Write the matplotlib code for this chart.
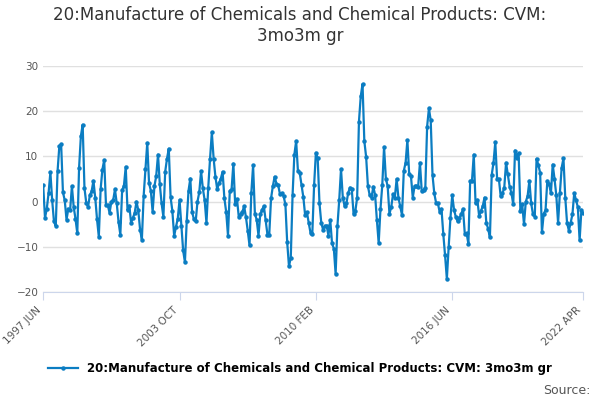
import matplotlib.pyplot as plt

values = [
    3.6, -3.6, -1.6, 1.9, 6.5, 0.3, -4.4, -5.4, 6.7, 12.3, 12.7, 2.1, 0.3, -4, -1.6, -1.9, 3.4, -1.2,
    -3.8, -7, 7.5, 14.5, 17, 3, -0.3, -1.2, 1.4, 2.3, 4.6, 0.9, -3.9, -7.8, 2.7, 7.1, 9.2, -0.8, -0.8,
    -2.5, 0, 0.3, 2.7, -0.4, -4.5, -7.3, 2.5, 3.5, 7.7, -1.9, -0.9, -4.7, -3.6, -2.5, 0, -1.9, -6.2,
    -8.4, 1.3, 7.3, 13, 4.1, 2.4, -2.3, 3.4, 5.7, 10.4, 3.8, -0.4, -3.4, 6.6, 9.5, 11.7, 1, -2.1,
    -7.6, -5.6, -3.8, 0.4, -5.3, -10.8, -13.4, -4.3, 2.4, 5.1, -2.3, -3.9, -4.4, 0, 2.1, 6.7, 2.9, 0.3,
    -4.7, 3.1, 9.5, 15.3, 9.5, 5.5, 2.7, 4.1, 5.1, 6.6, 0.7, -2.3, -7.5, 2.4, 2.7, 8.4, -0.6, 0.6, -3.3,
    -2.8, -2.3, -1, -3.4, -6.4, -9.7, 1.9, 8, -2.7, -4, -7.5, -2.8, -1.8, -1, -4.1, -7.3, -7.3, 0.7,
    3.4, 5.5, 4, 3.6, 1.6, 1.9, 1.2, -0.6, -9, -14.3, -12.4, 1.4, 10.4, 13.4, 6.7, 6.3, 3.6, 1, -3,
    -2.3, -4.7, -6.9, -7.1, 3.6, 10.8, 9.6, -0.4, -4.7, -6.2, -5.4, -5.3, -7.5, -4.1, -9.2, -10.4, -16,
    -5.4, 0.3, 7.2, 0.9, -1, -0.4, 1.9, 3.1, 2.7, -2.7, -2.1, 0.9, 17.7, 23.3, 26, 13.4, 9.9, 3.4, 1.4,
    0.9, 3.3, 1.5, -4.1, -9.2, -1.6, 3.6, 12.1, 5.1, 3.4, -2.7, -1.2, 1.6, 0.9, 5, 0.9, -1, -3, 6.8,
    8.6, 13.6, 6.1, 5.6, 0.9, 3.4, 3.4, 3.3, 8.6, 2.3, 2.5, 3.1, 16.6, 20.6, 18, 5.9, 1.8, -0.3, -0.4,
    -2.3, -1.6, -7.1, -11.9, -17.1, -10.1, -3.6, 1.4, -1.8, -3.4, -4.4, -3.6, -2.8, -1.6, -7.1, -7,
    -9.3, 4.6, 4.6, 10.4, -0.4, 0.4, -3.2, -2.1, -1, 0.9, -4.7, -6, -7.9, 5.9, 8.6, 13.2, 5.1, 5, 1.2,
    1.8, 3.1, 8.6, 6, 3.3, 1.9, -0.6, 11.3, 9.6, 10.7, -2.1, -0.6, -5, 0, 1.2, 4.6, -0.4, -2.8, -3.3,
    9.5, 8.1, 6.4, -6.8, -2.7, -1.9, 4.6, 3.9, 1.8, 8.2, 5.1, 1.4, -4.7, 1.9, 7.5, 9.6, 0.9, -4.7, -6.4,
    -4.7, -2.8, 1.9, 0.3, -1.2, -8.6, -1.8, -2.5,
]
n = len(values)
tick_labels = ['1997 JUN', '2003 OCT', '2010 FEB', '2016 JUN', '2022 APR']
tick_pos = [0, 76, 152, 228, n - 1]
label = '20:Manufacture of Chemicals and Chemical Products: CVM: 3mo3m gr'
color = '#0b7dc2'

fig = plt.figure(figsize=(6, 4), dpi=100)
ax = fig.add_axes([0.072, 0.27, 0.9, 0.565])
ax.plot(range(n), values, color=color, lw=1.6, marker='o', ms=2.2, label=label)
ax.set_xlim(0, n - 1)
ax.set_ylim(-20, 30)
ax.set_yticks([-20, -10, 0, 10, 20, 30])
ax.set_xticks(tick_pos)
ax.set_xticklabels(tick_labels, rotation=45, ha='right', fontsize=7.5, color='#555555')
ax.tick_params(axis='y', length=0, labelsize=7.5, labelcolor='#555555')
ax.tick_params(axis='x', length=6, color='#ccd6eb')
ax.grid(axis='y', color='#e0e0e0', lw=1)
for s in ['top', 'right', 'left']:
    ax.spines[s].set_visible(False)
ax.spines['bottom'].set_color('#ccd6eb')
ax.set_axisbelow(True)

fig.suptitle('20:Manufacture of Chemicals and Chemical Products: CVM:\n3mo3m gr',
             fontsize=12, y=0.985, color='#333333')
fig.legend(loc='lower center', bbox_to_anchor=(0.5, 0.035), frameon=False,
           prop={'size': 8.5, 'weight': 'bold'}, handlelength=2.5)
fig.text(0.985, 0.015, 'Source:', ha='right', fontsize=9, color='#555555')
fig.savefig('out.png')
